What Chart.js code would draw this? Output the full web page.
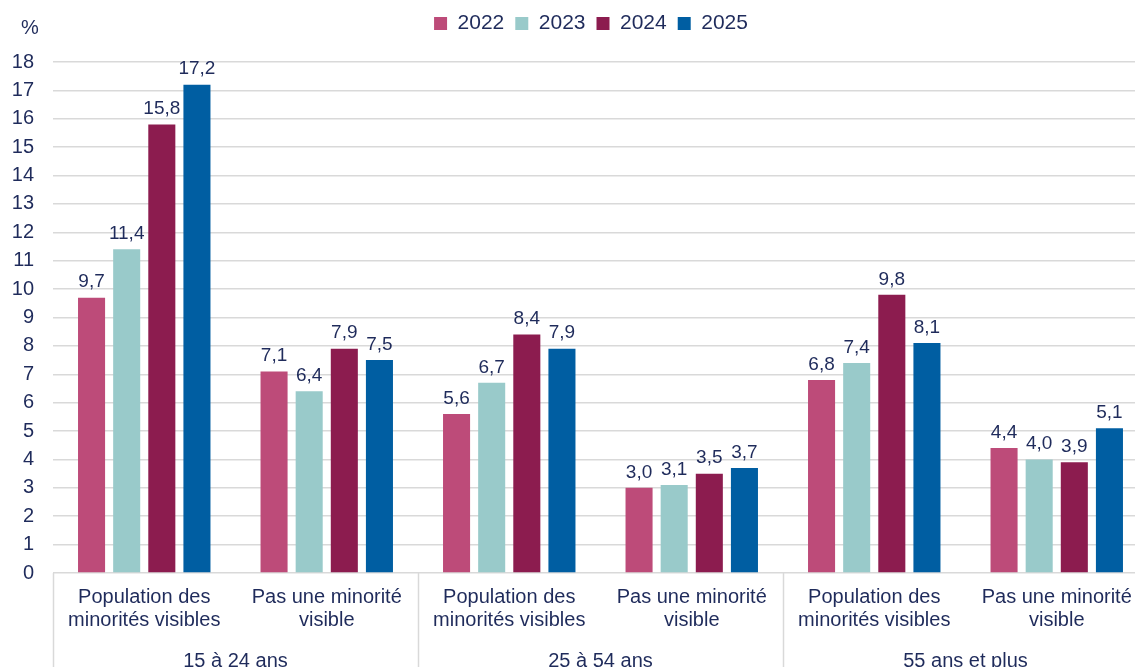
<!DOCTYPE html>
<html>
<head>
<meta charset="utf-8">
<script src="https://cdn.jsdelivr.net/npm/chart.js@4"></script>
<style>
  html, body { margin: 0; padding: 0; background: #fff; overflow: hidden; }
  #wrap { width: 1135px; height: 667px; overflow: hidden; position: relative; }
  canvas { display: block; }
</style>
</head>
<body>
<div id="wrap"><canvas id="chart" width="1148" height="685"></canvas></div>
<script>
// categories (sub-level) and age groups (top level)
var categories = [
    ['Population des', 'minorités visibles'], ['Pas une minorité', 'visible'],
    ['Population des', 'minorités visibles'], ['Pas une minorité', 'visible'],
    ['Population des', 'minorités visibles'], ['Pas une minorité', 'visible']
];
var groups = ['15 à 24 ans', '25 à 54 ans', '55 ans et plus'];

// series values (%)
var v2022 = [9.7, 7.1, 5.6, 3.0, 6.8, 4.4];
var v2023 = [11.4, 6.4, 6.7, 3.1, 7.4, 4.0];
var v2024 = [15.8, 7.9, 8.4, 3.5, 9.8, 3.9];
var v2025 = [17.2, 7.5, 7.9, 3.7, 8.1, 5.1];

var textColor = '#1f2b5b';
var gridColor = '#d9d9d9';
var font = 'Liberation Sans, Arial, sans-serif';

// value labels above each bar
var barLabels = {
    id: 'barLabels',
    afterDatasetsDraw: function(chart) {
        var ctx = chart.ctx;
        ctx.save();
        ctx.font = '19px ' + font;
        ctx.fillStyle = textColor;
        ctx.textAlign = 'center';
        ctx.textBaseline = 'bottom';
        chart.data.datasets.forEach(function(ds, i) {
            chart.getDatasetMeta(i).data.forEach(function(bar, j) {
                ctx.fillText(ds.data[j].toFixed(1).replace('.', ','), bar.x, bar.y - 6);
            });
        });
        ctx.restore();
    }
};

// make room under the legend and nudge it right, like the original
var legendSpace = {
    id: 'legendSpace',
    beforeLayout: function(chart) {
        var lg = chart.legend;
        if (lg && !lg._patched) {
            var fit = lg.fit;
            lg.fit = function() {
                fit.call(this);
                this.height += 18;
            };
            lg._patched = true;
        }
    },
    afterLayout: function(chart) {
        chart.legend.left += 17;
        chart.legend.right += 17;
    }
};

// group labels, separators and the % unit
var groupAxis = {
    id: 'groupAxis',
    afterDraw: function(chart) {
        var ctx = chart.ctx;
        var x = chart.scales.x;
        var area = chart.chartArea;
        var catW = (area.right - area.left) / categories.length;
        ctx.save();
        ctx.strokeStyle = gridColor;
        ctx.lineWidth = 1.5;
        for (var i = 0; i <= groups.length; i++) {
            var sx = Math.round(area.left + i * 2 * catW) + 0.5;
            ctx.beginPath();
            ctx.moveTo(sx, area.bottom);
            ctx.lineTo(sx, chart.height);
            ctx.stroke();
        }
        ctx.font = '20px ' + font;
        ctx.fillStyle = textColor;
        ctx.textAlign = 'center';
        ctx.textBaseline = 'middle';
        groups.forEach(function(g, i) {
            var cx = (x.getPixelForValue(2 * i) + x.getPixelForValue(2 * i + 1)) / 2;
            ctx.fillText(g, cx, 661);
        });
        ctx.fillText('%', 30, 28);
        ctx.restore();
    }
};

var ctx = document.getElementById('chart').getContext('2d');

var chart = new Chart(ctx, {
    type: 'bar',
    data: {
        labels: categories,
        datasets: [
            { label: '2022', data: v2022, backgroundColor: '#bd4b79' },
            { label: '2023', data: v2023, backgroundColor: '#99caca' },
            { label: '2024', data: v2024, backgroundColor: '#8c1c4f' },
            { label: '2025', data: v2025, backgroundColor: '#005ea2' }
        ]
    },
    options: {
        responsive: false,
        animation: false,
        devicePixelRatio: 1,
        categoryPercentage: 0.77,
        barPercentage: 0.77,
        layout: { padding: { top: 2, right: 0, bottom: 0, left: 0 } },
        plugins: {
            legend: {
                position: 'top',
                labels: {
                    color: textColor,
                    font: { family: font, size: 21 },
                    boxWidth: 13,
                    boxHeight: 13,
                    padding: 11
                }
            },
            tooltip: { enabled: false }
        },
        scales: {
            x: {
                grid: { display: false, drawTicks: false },
                border: { display: false },
                ticks: {
                    color: textColor,
                    font: { family: font, size: 20, lineHeight: 1.15 },
                    padding: 13,
                    maxRotation: 0,
                    autoSkip: false
                },
                afterFit: function(scale) { scale.height = 112; }
            },
            y: {
                min: 0,
                max: 18,
                border: { display: false },
                grid: { color: gridColor, lineWidth: 1.5, drawTicks: false },
                ticks: {
                    stepSize: 1,
                    color: textColor,
                    font: { family: font, size: 20 },
                    padding: 19
                },
                afterFit: function(scale) { scale.width = 53; }
            }
        }
    },
    plugins: [barLabels, legendSpace, groupAxis]
});
</script>
</body>
</html>
